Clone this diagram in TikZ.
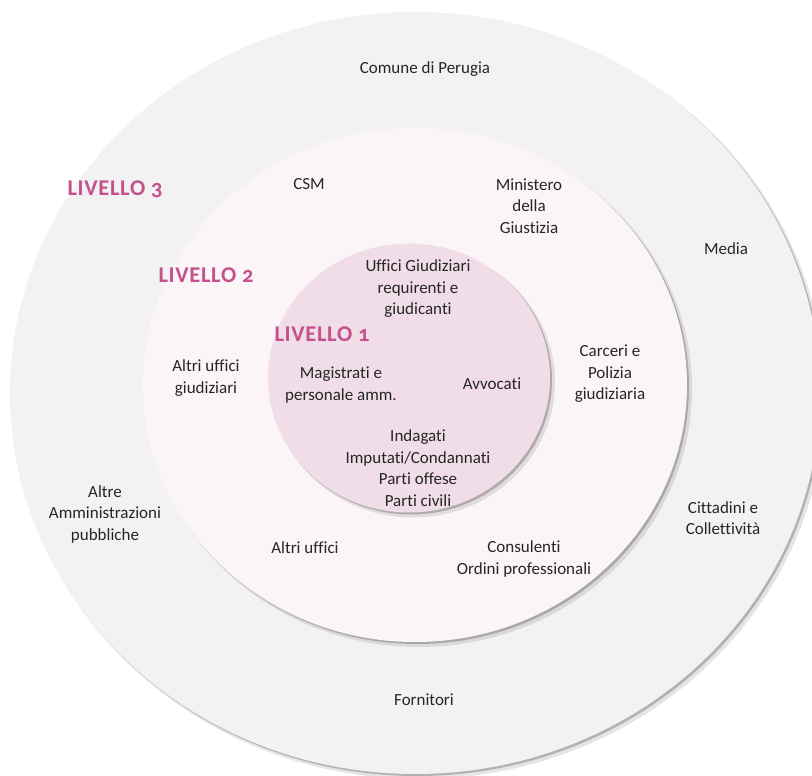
\documentclass[tikz,border=0pt]{standalone}
\usepackage{fontspec}
\setmainfont{Carlito}[Numbers=OldStyle,Ligatures={NoCommon}]
\newfontfamily\lvlfont{Carlito}[Numbers=OldStyle,Ligatures={NoCommon},LetterSpace=3]
\definecolor{outerfill}{HTML}{F2F2F2}
\definecolor{midfill}{HTML}{FBF5F8}
\definecolor{innerfill}{HTML}{F1DDE7}
\definecolor{lvlpink}{HTML}{C4508C}
\definecolor{txt}{HTML}{262626}
\begin{document}
\begin{tikzpicture}[x=1pt,y=-1pt,
  lbl/.style={align=center,text=txt,font=\fontsize{17}{21.5}\selectfont,inner sep=0pt},
  lvl/.style={text=lvlpink,font=\lvlfont\fontsize{22.5}{24}\selectfont\bfseries,inner sep=0pt},
  shadowA/.style={fill=black,opacity=0.10},
  shadowB/.style={fill=black,opacity=0.22}]
\useasboundingbox (0,0) rectangle (812,776);
\fill[white] (0,0) rectangle (812,776);
% outer ring
\fill[shadowA] (419,397) ellipse [x radius=406, y radius=382];
\fill[shadowB] (417,395) ellipse [x radius=405, y radius=381];
\fill[outerfill] (415,393) ellipse [x radius=405, y radius=381];
% middle ring
\fill[shadowA] (419,389) ellipse [x radius=273, y radius=258];
\fill[shadowB] (417,387) ellipse [x radius=272, y radius=257];
\fill[midfill] (415,385) ellipse [x radius=272, y radius=257];
% inner disc
\fill[shadowA] (413,382) ellipse [x radius=142, y radius=135.5];
\fill[shadowB] (411,380) ellipse [x radius=141, y radius=134.5];
\fill[innerfill] (409,378) ellipse [x radius=141, y radius=134.5];
% level labels
\node[lvl] (l3) at (115,189) {LIVELLO 3};
\node[lvl] (l2) at (206,275) {LIVELLO 2};
\node[lvl] (l1) at (322,334) {LIVELLO 1};
% level 3 texts
\node[lbl] (comune) at (425,69) {Comune di Perugia};
\node[lbl] (media) at (726,249) {Media};
\node[lbl] (altreamm) at (105,514) {Altre\\Amministrazioni\\pubbliche};
\node[lbl] (cittadini) at (723,518) {Cittadini e\\Collettività};
\node[lbl] (fornitori) at (424,700) {Fornitori};
% level 2 texts
\node[lbl] (csm) at (309,184) {CSM};
\node[lbl] (ministero) at (529,206) {Ministero\\della\\Giustizia};
\node[lbl] (altriuffgiud) at (206,378) {Altri uffici\\giudiziari};
\node[lbl] (carceri) at (610,374) {Carceri e\\Polizia\\giudiziaria};
\node[lbl] (altriuffici) at (305,548) {Altri uffici};
\node[lbl] (consulenti) at (524,559) {Consulenti\\Ordini professionali};
% level 1 texts
\node[lbl] (uffici) at (418,289) {Uffici Giudiziari\\requirenti e\\giudicanti};
\node[lbl] (magistrati) at (341,385) {Magistrati e\\personale amm.};
\node[lbl] (avvocati) at (492,384) {Avvocati};
\node[lbl] (indagati) at (418,468) {Indagati\\Imputati/Condannati\\Parti offese\\Parti civili};
\end{tikzpicture}
\end{document}
